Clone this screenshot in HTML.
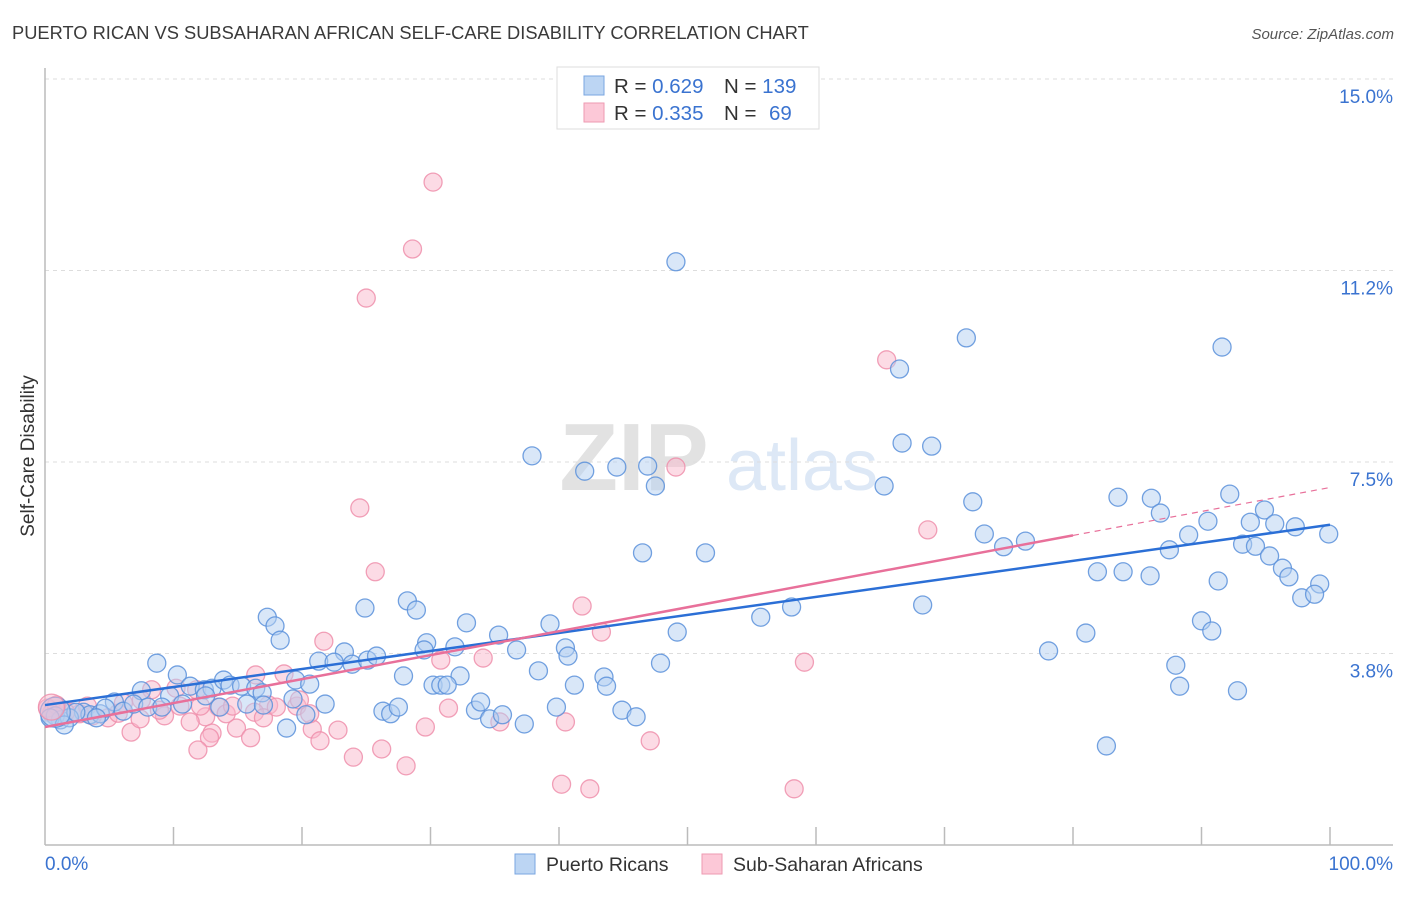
<!DOCTYPE html>
<html><head><meta charset="utf-8"><style>
body{margin:0;background:#fff;font-family:"Liberation Sans",sans-serif;}
svg text{font-family:"Liberation Sans",sans-serif;}
</style></head><body>
<svg id="chart" width="1406" height="892" xmlns="http://www.w3.org/2000/svg">
<text x="12" y="39" font-size="18.3" fill="#3a3a3a">PUERTO RICAN VS SUBSAHARAN AFRICAN SELF-CARE DISABILITY CORRELATION CHART</text>
<text x="1394" y="39" font-size="15" fill="#555" text-anchor="end" font-style="italic">Source: ZipAtlas.com</text>
<g>
<text x="634" y="490" font-size="96" fill="#e2e2e2" font-family="Liberation Serif" text-anchor="middle" font-weight="bold">ZIP</text>
<text x="802" y="490" font-size="72" fill="#dde8f6" text-anchor="middle">atlas</text>
</g>
<g id="grid"></g>
<g id="axes"></g>
<g id="marks"></g>
<g id="trends"></g>
<text transform="translate(34,456) rotate(-90)" font-size="19" fill="#333" text-anchor="middle">Self-Care Disability</text>
<g>
<rect x="557" y="67" width="262" height="62" fill="#fff" stroke="#ddd"/>
<rect x="584" y="76" width="20" height="19" fill="#bcd5f3" stroke="#7aa6e0"/>
<rect x="584" y="103" width="20" height="19" fill="#fcc8d7" stroke="#ee9ab2"/>
<text x="614" y="93" font-size="20.5" fill="#333">R = <tspan fill="#3a73d0">0.629</tspan><tspan x="724">N = </tspan><tspan fill="#3a73d0">139</tspan></text>
<text x="614" y="120" font-size="20.5" fill="#333">R = <tspan fill="#3a73d0">0.335</tspan><tspan x="724">N = </tspan><tspan fill="#3a73d0" x="769">69</tspan></text>
</g>
<g>
<rect x="515" y="854" width="20" height="20" fill="#bcd5f3" stroke="#7aa6e0"/>
<text x="546" y="871" font-size="19.5" fill="#333">Puerto Ricans</text>
<rect x="702" y="854" width="20" height="20" fill="#fcc8d7" stroke="#ee9ab2"/>
<text x="733" y="871" font-size="19.5" fill="#333">Sub-Saharan Africans</text>
</g>
</svg>
<script>
const yTicks=[3.75,7.5,11.25,15];
const yTickLabels=["3.8%","7.5%","11.2%","15.0%"];
const xTickCount=10;
const blueX=[49.1,71.7,91.6,66.5,66.7,69.0,37.9,42.0,44.5,46.9,47.5,65.3,72.2,83.5,86.1,86.8,92.2,94.9,93.8,90.5,95.7,97.3,99.9,89.0,93.2,94.2,95.3,87.5,74.6,76.3,73.1,46.5,51.4,81.9,83.9,86.0,96.3,96.8,99.2,91.3,97.8,98.8,68.3,58.1,55.7,90.0,90.8,81.0,49.2,78.1,88.0,88.3,92.8,82.6,17.3,17.9,18.3,24.9,28.2,28.9,32.8,35.3,39.3,40.5,40.7,36.7,31.9,29.7,29.5,23.3,21.3,22.5,23.9,25.1,25.8,27.9,32.3,30.2,30.8,31.3,38.4,41.2,43.5,43.7,47.9,8.7,10.3,11.3,12.4,13.0,13.9,14.4,15.3,16.4,16.9,19.5,20.6,19.3,21.8,7.5,9.7,5.4,6.1,6.9,8.0,9.1,10.7,12.5,13.6,15.7,17.0,18.8,20.3,26.3,26.9,27.5,33.5,33.9,34.6,35.6,37.3,39.8,44.9,46.0,3.0,1.2,0.8,1.9,3.5,4.3,0.4,1.5,2.4,4.7,4.0];
const blueY=[11.42,9.93,9.75,9.32,7.87,7.81,7.62,7.32,7.40,7.42,7.03,7.03,6.72,6.81,6.79,6.50,6.87,6.56,6.32,6.34,6.29,6.23,6.09,6.07,5.89,5.85,5.66,5.78,5.84,5.95,6.09,5.72,5.72,5.35,5.35,5.27,5.42,5.25,5.11,5.17,4.84,4.91,4.70,4.66,4.46,4.39,4.19,4.15,4.17,3.80,3.52,3.11,3.02,1.94,4.46,4.29,4.01,4.64,4.78,4.60,4.35,4.11,4.33,3.86,3.70,3.82,3.88,3.96,3.82,3.78,3.60,3.58,3.54,3.62,3.70,3.31,3.31,3.13,3.13,3.13,3.41,3.13,3.29,3.11,3.56,3.56,3.33,3.11,3.04,3.07,3.23,3.13,3.11,3.07,2.98,3.23,3.15,2.86,2.76,3.02,2.92,2.80,2.62,2.76,2.70,2.70,2.76,2.92,2.70,2.76,2.74,2.29,2.55,2.62,2.57,2.70,2.64,2.80,2.47,2.55,2.37,2.70,2.64,2.51,2.60,2.45,2.53,2.49,2.55,2.57,2.49,2.35,2.60,2.68,2.49];
const pinkX=[30.2,28.6,25.0,65.5,49.1,24.5,68.7,25.7,41.8,43.3,21.7,34.1,30.8,59.1,18.6,16.4,8.3,10.2,11.8,13.5,12.5,14.1,17.4,16.3,17.0,19.6,20.8,22.8,21.4,14.9,11.3,13.0,16.0,12.8,11.9,6.7,9.3,31.4,35.4,40.5,29.6,26.2,24.0,28.1,40.2,42.4,58.3,47.1,4.9,3.7,2.7,2.1,1.2,0.5,0.2,5.7,7.4,8.9,10.5,12.1,14.6,18.0,20.6,19.8,7.5,6.1,1.6,3.3,0.9];
const pinkY=[12.98,11.67,10.71,9.50,7.40,6.60,6.17,5.35,4.68,4.17,3.99,3.66,3.62,3.58,3.35,3.33,3.04,3.07,3.04,2.70,2.51,2.57,2.74,2.60,2.49,2.72,2.27,2.25,2.04,2.29,2.41,2.19,2.10,2.10,1.86,2.21,2.53,2.68,2.41,2.41,2.31,1.88,1.72,1.55,1.19,1.10,1.10,2.04,2.49,2.53,2.57,2.60,2.53,2.58,2.68,2.58,2.47,2.64,2.72,2.72,2.72,2.70,2.57,2.84,2.84,2.78,2.60,2.72,2.74];
const blueTrend=[2.74,6.27];
const pinkTrend=[2.31,7.0];
const pinkSolidEnd=80;

const NS="http://www.w3.org/2000/svg";
const X0=45,X1=1330,Y0=845,YPX=51.07;
function sx(v){return X0+(X1-X0)*v/100;}
function sy(v){return Y0-v*YPX;}
function mk(tag,attrs,parent){const e=document.createElementNS(NS,tag);for(const k in attrs)e.setAttribute(k,attrs[k]);parent.appendChild(e);return e;}
const grid=document.getElementById('grid'),axes=document.getElementById('axes'),marks=document.getElementById('marks'),trends=document.getElementById('trends');
yTicks.forEach((t,i)=>{
  const l=mk('line',{x1:X0,x2:1393,y1:sy(t),y2:sy(t),stroke:'#ddd','stroke-dasharray':'4,4'},grid);
  
  
  const tx=mk('text',{x:1393,y:sy(t)+24,'font-size':19,fill:'#3a73d0','text-anchor':'end'},axes);
  tx.textContent=yTickLabels[i];
  
  
});
const al=mk('line',{x1:X0,x2:X0,y1:68,y2:Y0,stroke:'#bbb','stroke-width':1.5},axes);


const bl=mk('line',{x1:X0,x2:1393,y1:Y0,y2:Y0,stroke:'#bbb','stroke-width':1.5},axes);


for(let i=1;i<=xTickCount;i++){
  const t=mk('line',{x1:sx(i*10),x2:sx(i*10),y1:827,y2:Y0,stroke:'#bbb','stroke-width':1.5},axes);
  
  
}
const xl0=mk('text',{x:45,y:870,'font-size':19,fill:'#3a73d0'},axes);xl0.textContent='0.0%';


const xl1=mk('text',{x:1393,y:870,'font-size':19,fill:'#3a73d0','text-anchor':'end'},axes);xl1.textContent='100.0%';



function dot(x,y,r,fill,stroke,name){
  const c=mk('circle',{cx:sx(x),cy:sy(y),r:r,fill:fill,'fill-opacity':0.5,stroke:stroke,'stroke-width':1.3,'stroke-opacity':0.85},marks);
  
  
}
pinkX.forEach((x,i)=>dot(x,pinkY[i],9,'#f9b8cb','#ee8fab','sub-saharan-point'));
blueX.forEach((x,i)=>dot(x,blueY[i],9,'#b3cff2','#5b90da','puerto-rican-point'));
dot(0.8,2.6,15,'#b3cff2','#5b90da','puerto-rican-point');
dot(0.5,2.7,13,'#f9b8cb','#ee8fab','sub-saharan-point');

const bt=mk('line',{x1:sx(0),y1:sy(blueTrend[0]),x2:sx(100),y2:sy(blueTrend[1]),stroke:'#2b6fd6','stroke-width':2.5},trends);


const pm=pinkTrend[0]+(pinkTrend[1]-pinkTrend[0])*pinkSolidEnd/100;
const pt=mk('line',{x1:sx(0),y1:sy(pinkTrend[0]),x2:sx(pinkSolidEnd),y2:sy(pm),stroke:'#e8709a','stroke-width':2.5},trends);


const pd=mk('line',{x1:sx(pinkSolidEnd),y1:sy(pm),x2:sx(100),y2:sy(pinkTrend[1]),stroke:'#e8709a','stroke-width':1.2,'stroke-dasharray':'6,5'},trends);


</script>
</body></html>
